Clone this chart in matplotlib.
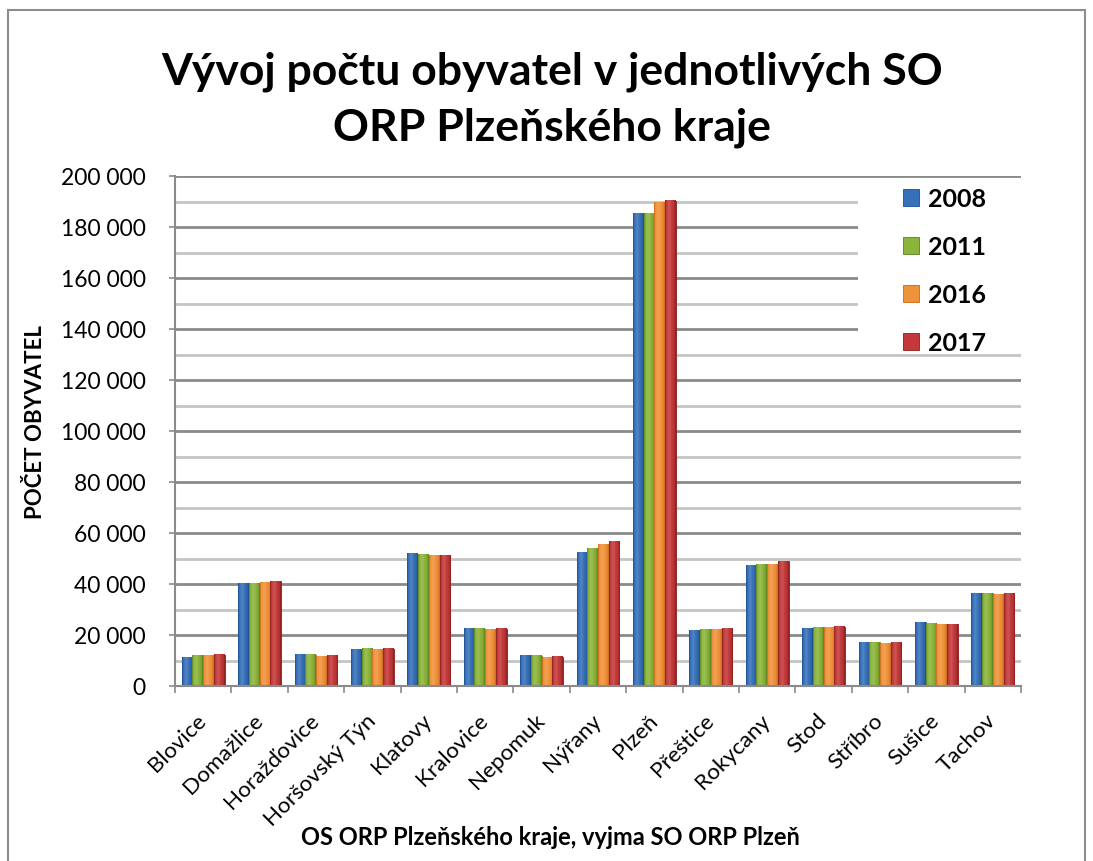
import matplotlib.pyplot as plt
import numpy as np
from matplotlib.patches import Rectangle
from matplotlib.ticker import FuncFormatter, MultipleLocator
from matplotlib.colors import to_rgb

plt.rcParams['font.family'] = ['Lato', 'DejaVu Sans']

# data
towns = ["Blovice", "Domažlice", "Horažďovice", "Horšovský Týn", "Klatovy",
         "Kralovice", "Nepomuk", "Nýřany", "Plzeň", "Přeštice", "Rokycany",
         "Stod", "Stříbro", "Sušice", "Tachov"]
years = ["2008", "2011", "2016", "2017"]
pop_2008 = [11300, 40300, 12200, 14200, 51800, 22500, 11900, 52200, 185200,
            21600, 47300, 22400, 17200, 25000, 36400]
pop_2011 = [11900, 40300, 12200, 14600, 51400, 22500, 11900, 53800, 185200,
            22100, 47800, 22800, 17200, 24700, 36400]
pop_2016 = [11900, 40700, 11500, 14500, 51000, 22100, 11300, 55500, 189500,
            22100, 47800, 22800, 16600, 24000, 35800]
pop_2017 = [12200, 41100, 11900, 14600, 51000, 22500, 11500, 56500, 190200,
            22500, 49000, 23200, 17200, 24300, 36400]
series = [pop_2008, pop_2011, pop_2016, pop_2017]

colors = ["#3670b8", "#8ab43a", "#f0923a", "#c3393a"]
darks = ["#1d4c8c", "#5a7f22", "#c46a1c", "#8a1e1e"]


def shade(base, dark, n=40):
    # horizontal bevel: dark edges, lighter middle
    b = np.array(to_rgb(base))
    d = np.array(to_rgb(dark))
    light = b + (1 - b) * 0.15
    t = np.linspace(0, 1, n)
    prof = np.interp(t, [0, 0.12, 0.4, 0.85, 1], [0, 0.8, 1.0, 0.6, 0])
    out = []
    for p in prof:
        if p < 0.8:
            out.append(d + (b - d) * (p / 0.8))
        else:
            out.append(b + (light - b) * ((p - 0.8) / 0.2))
    return np.array(out)[None, :, :]


W, H = 1093, 862
fig = plt.figure(figsize=(W / 100, H / 100), dpi=100)

# outer chart frame
fig.add_artist(Rectangle((8 / W, -0.05), (1085 - 8) / W, (H - 11) / H + 0.05,
                         transform=fig.transFigure, fill=False,
                         edgecolor="#8c8c8c", lw=1.5))

ax = fig.add_axes([175 / W, 1 - 687 / H, (1021 - 175) / W, (687 - 177) / H])

x = np.arange(len(towns))
bw = 0.19
for i, (vals, c, dk, yr) in enumerate(zip(series, colors, darks, years)):
    bars = ax.bar(x + (i - 1.5) * bw, vals, width=bw, color=c, edgecolor=dk,
                  linewidth=0.6, label=yr, zorder=3)
    grad = shade(c, dk)
    for p in bars:
        ax.imshow(grad, extent=[p.get_x(), p.get_x() + p.get_width(), 0, p.get_height()],
                  aspect="auto", interpolation="bilinear", zorder=3.5)

ax.set_xlim(-0.5, len(towns) - 0.5)
ax.set_ylim(0, 200000)
ax.yaxis.set_major_locator(MultipleLocator(20000))
ax.yaxis.set_minor_locator(MultipleLocator(10000))
ax.yaxis.set_major_formatter(FuncFormatter(lambda v, p: f"{int(v):,}".replace(",", " ")))
ax.grid(axis="y", which="major", color="#8a8a8a", lw=2)
ax.grid(axis="y", which="minor", color="#c4c4c4", lw=2)
ax.set_axisbelow(True)
ax.tick_params(axis="y", which="major", length=4, width=1.2, color="#8a8a8a",
               labelsize=16.5, pad=17)
ax.tick_params(axis="y", which="minor", length=0)

for s in ["top", "right"]:
    ax.spines[s].set_visible(False)
for s in ["left", "bottom"]:
    ax.spines[s].set_color("#8a8a8a")
    ax.spines[s].set_linewidth(1.5)
    ax.spines[s].set_zorder(5)

# category boundary ticks on x axis
ax.set_xticks(np.arange(len(towns) + 1) - 0.5, minor=True)
ax.tick_params(axis="x", which="minor", length=5, width=1.2, color="#8a8a8a")
ax.set_xticks(x)
ax.tick_params(axis="x", which="major", length=0, pad=22)
ax.set_xticklabels(towns, rotation=45, ha="right", va="center",
                   rotation_mode="anchor", fontsize=16.2)

ax.set_ylabel("POČET OBYVATEL", fontsize=16, fontweight="bold")
ax.yaxis.set_label_coords(-0.152, 0.52)
fig.text(550 / W, 1 - 838 / H,
         "OS ORP Plzeňského kraje, vyjma SO ORP Plzeň",
         ha="center", va="center", fontsize=17, fontweight="bold")

fig.text(552 / W, 1 - 72 / H, "Vývoj počtu obyvatel v jednotlivých SO",
         ha="center", va="center", fontsize=32, fontweight="bold")
fig.text(552 / W, 1 - 128 / H, "ORP Plzeňského kraje",
         ha="center", va="center", fontsize=32, fontweight="bold")

# white area behind the legend
ax.add_patch(Rectangle(((858 - 175) / 846, (687 - 352) / 510),
                       (1021 - 858) / 846, (352 - 179) / 510,
                       transform=ax.transAxes, facecolor="white",
                       edgecolor="none", zorder=2))
leg = ax.legend(loc="upper left", bbox_to_anchor=((880 - 175) / 846, 1.022),
                frameon=False, prop={"size": 18, "weight": "bold"},
                handlelength=0.65, handleheight=0.65, handletextpad=0.35,
                labelspacing=1.0)
leg.set_zorder(6)

fig.savefig("out.png", dpi=100)
